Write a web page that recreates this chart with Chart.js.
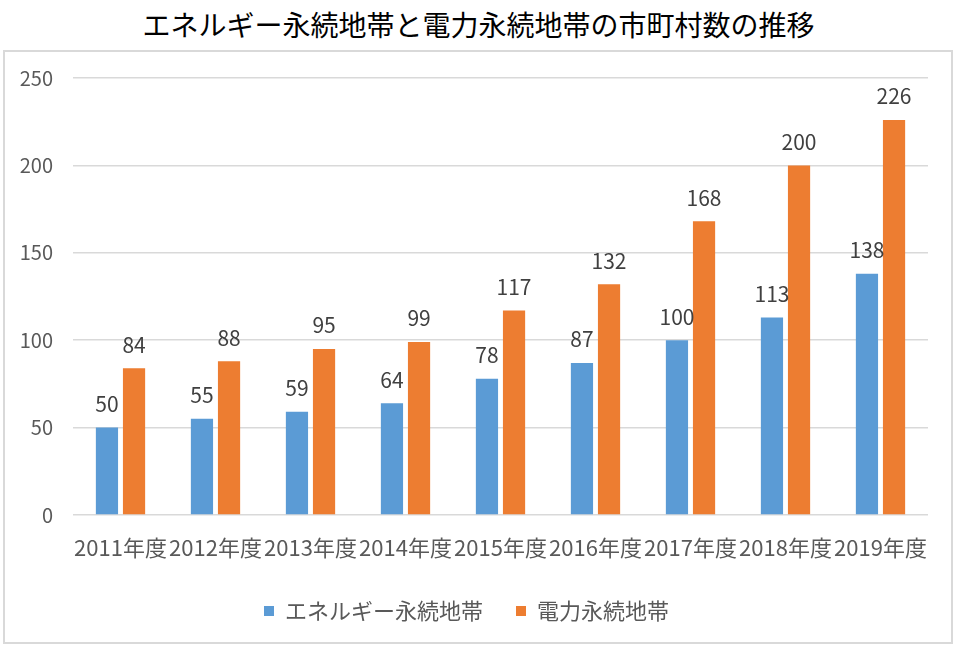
<!DOCTYPE html>
<html lang="ja">
<head>
<meta charset="UTF-8" />
<title>エネルギー永続地帯と電力永続地帯の市町村数の推移</title>
<script src="https://cdn.jsdelivr.net/npm/chart.js"></script>
<style>
  html, body { margin: 0; padding: 0; background: #fff; overflow: hidden; }
  body { width: 957px; height: 648px; position: relative; font-family: 'Noto Sans CJK JP', sans-serif; }
  #title {
    position: absolute; left: 0; top: 4px; width: 957px; text-align: center;
    font-size: 28px; font-weight: 400; color: #000; line-height: 40px;
  }
  #box {
    position: absolute; left: 3px; top: 50px; width: 946px; height: 590px;
    border: 2px solid #d9d9d9;
  }
</style>
</head>
<body>
<div id="title">エネルギー永続地帯と電力永続地帯の市町村数の推移</div>
<div id="box"><canvas id="chart" width="946" height="590"></canvas></div>
<script>
const years = ['2011年度', '2012年度', '2013年度', '2014年度', '2015年度', '2016年度', '2017年度', '2018年度', '2019年度'];
const energyLabel = 'エネルギー永続地帯';
const powerLabel = '電力永続地帯';
const energyCounts = [50, 55, 59, 64, 78, 87, 100, 113, 138];
const powerCounts = [84, 88, 95, 99, 117, 132, 168, 200, 226];
const yTicks = [0, 50, 100, 150, 200, 250];

const fontFamily = "'Noto Sans CJK JP', sans-serif";

// draw the value above each bar
const valueLabels = {
  id: 'valueLabels',
  afterDatasetsDraw(chart) {
    const ctx = chart.ctx;
    ctx.save();
    ctx.font = '21px ' + fontFamily;
    ctx.fillStyle = '#404040';
    ctx.textAlign = 'center';
    ctx.textBaseline = 'bottom';
    chart.data.datasets.forEach((ds, i) => {
      chart.getDatasetMeta(i).data.forEach((bar, j) => {
        ctx.fillText(ds.data[j], bar.x, bar.y - 13);
      });
    });
    ctx.restore();
  }
};

new Chart(document.getElementById('chart'), {
  type: 'bar',
  data: {
    labels: years,
    datasets: [
      { label: energyLabel, data: energyCounts, backgroundColor: '#5B9BD5', borderWidth: 0 },
      { label: powerLabel, data: powerCounts, backgroundColor: '#ED7D31', borderWidth: 0 }
    ]
  },
  options: {
    responsive: false,
    animation: false,
    barPercentage: 0.82,
    categoryPercentage: 0.57,
    layout: { padding: { left: 0, right: 23, top: 26, bottom: 10 } },
    plugins: {
      tooltip: { enabled: false },
      legend: {
        position: 'bottom',
        labels: {
          boxWidth: 10, boxHeight: 10, padding: 33,
          color: '#595959',
          font: { size: 22, family: fontFamily }
        }
      }
    },
    scales: {
      x: {
        grid: { display: false },
        border: { display: false },
        ticks: {
          color: '#595959', font: { size: 22, family: fontFamily },
          maxRotation: 0, minRotation: 0, autoSkip: false, padding: 11
        },
        afterFit: s => { s.height = 52; }
      },
      y: {
        min: 0, max: 250,
        afterBuildTicks: s => { s.ticks = yTicks.map(v => ({ value: v })); },
        grid: { color: '#d9d9d9', lineWidth: 1.5, drawTicks: false },
        border: { display: false },
        ticks: { color: '#595959', font: { size: 20, family: fontFamily }, padding: 20 },
        afterFit: s => { s.width = 68; s.paddingTop = 8; s.paddingBottom = 8; }
      }
    }
  },
  plugins: [valueLabels]
});
</script>
</body>
</html>
